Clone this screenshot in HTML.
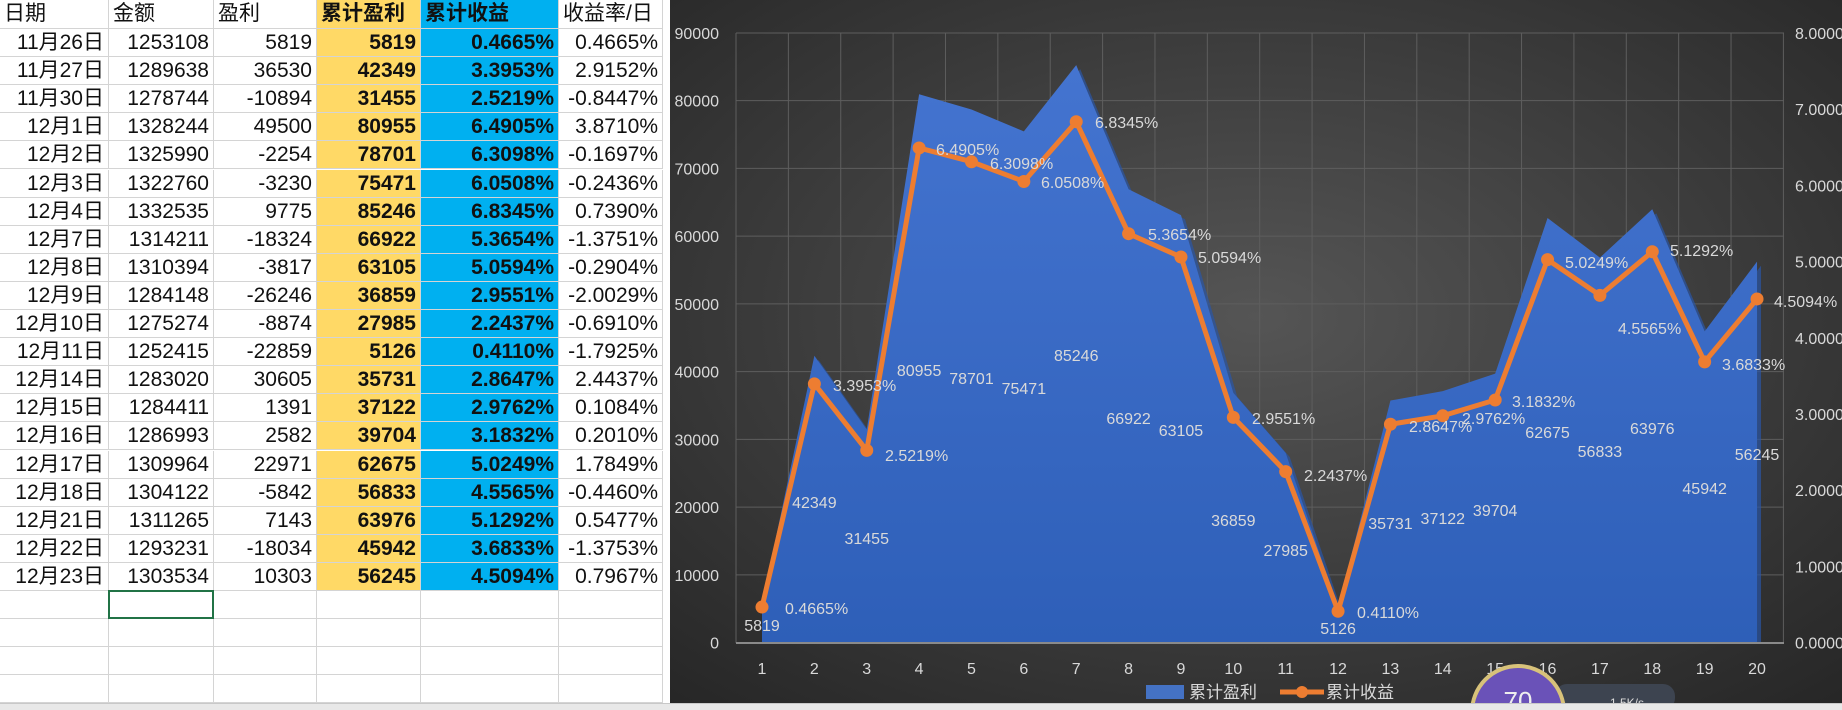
<!DOCTYPE html>
<html><head><meta charset="utf-8"><style>
body{margin:0;width:1842px;height:710px;overflow:hidden;background:#fff;position:relative;font-family:"Liberation Sans","Noto Sans CJK SC",sans-serif}
#sheet{position:absolute;left:0;top:0;width:670px;height:703px;overflow:hidden}
.c{position:absolute;box-sizing:border-box;border-right:1px solid #d4d4d4;border-bottom:1px solid #d4d4d4;font-size:21px;line-height:28px;padding:0 4px;white-space:nowrap;overflow:hidden;color:#111}
.r{text-align:right}
.y{background:#FFD966;font-weight:bold}
.b{background:#00B0F0;font-weight:bold}
#tabs{position:absolute;left:0;top:703px;width:1842px;height:7px;background:#e8e8e8;box-shadow:inset 0 1px 0 #c8c8c8}
</style></head><body>
<div id="sheet"></div>
<div id="tabs"></div>
<svg style="position:absolute;left:670px;top:0" width="1172" height="703" viewBox="670 0 1172 703">
<defs>
<radialGradient id="bg" cx="0.5" cy="0.45" r="0.75"><stop offset="0" stop-color="#555"/><stop offset="1" stop-color="#262626"/></radialGradient>
<linearGradient id="ar" x1="0" y1="0" x2="0" y2="1"><stop offset="0" stop-color="#4474d0"/><stop offset="1" stop-color="#2e5fb8"/></linearGradient>
</defs>
<rect x="670" y="0" width="1172" height="703" fill="url(#bg)"/>
<g id="grid" stroke="#5e5e5e" stroke-width="1"></g>
<polygon id="area2" fill="#2a55a6" opacity="0.7"/>
<polygon id="area" fill="url(#ar)"/>
<line x1="736" y1="643" x2="1784" y2="643" stroke="#8a8a8a" stroke-width="2"/>
<polyline id="ln" fill="none" stroke="#ED7D31" stroke-width="5" stroke-linejoin="round"/>
<g id="mk" fill="#ED7D31"></g>
<g id="lab" font-family="Liberation Sans, sans-serif" font-size="16" fill="#d9d9d9"></g>
<g font-family="Liberation Sans,'Noto Sans CJK SC',sans-serif" font-size="17" fill="#d9d9d9">
<rect x="1146" y="685" width="38" height="14" fill="#4472C4"/>
<text x="1189" y="698">累计盈利</text>
<line x1="1280" y1="692" x2="1324" y2="692" stroke="#ED7D31" stroke-width="5"/>
<circle cx="1302" cy="692" r="6" fill="#ED7D31"/>
<text x="1326" y="698">累计收益</text>
</g>
<rect x="1555" y="684" width="120" height="26" rx="12" fill="#3d4450"/>
<text x="1610" y="707" font-size="12" fill="#ddd" font-family="Liberation Sans">1.5K/s</text>
<circle cx="1518" cy="712" r="46" fill="#6a52b8" stroke="#d8c27a" stroke-width="4"/>
<text x="1518" y="710" font-size="26" fill="#eee" text-anchor="middle" font-family="Liberation Sans">70</text>
</svg>
<script>
var rows=[["11月26日",1253108,5819,5819,"0.4665%","0.4665%"],["11月27日",1289638,36530,42349,"3.3953%","2.9152%"],["11月30日",1278744,-10894,31455,"2.5219%","-0.8447%"],["12月1日",1328244,49500,80955,"6.4905%","3.8710%"],["12月2日",1325990,-2254,78701,"6.3098%","-0.1697%"],["12月3日",1322760,-3230,75471,"6.0508%","-0.2436%"],["12月4日",1332535,9775,85246,"6.8345%","0.7390%"],["12月7日",1314211,-18324,66922,"5.3654%","-1.3751%"],["12月8日",1310394,-3817,63105,"5.0594%","-0.2904%"],["12月9日",1284148,-26246,36859,"2.9551%","-2.0029%"],["12月10日",1275274,-8874,27985,"2.2437%","-0.6910%"],["12月11日",1252415,-22859,5126,"0.4110%","-1.7925%"],["12月14日",1283020,30605,35731,"2.8647%","2.4437%"],["12月15日",1284411,1391,37122,"2.9762%","0.1084%"],["12月16日",1286993,2582,39704,"3.1832%","0.2010%"],["12月17日",1309964,22971,62675,"5.0249%","1.7849%"],["12月18日",1304122,-5842,56833,"4.5565%","-0.4460%"],["12月21日",1311265,7143,63976,"5.1292%","0.5477%"],["12月22日",1293231,-18034,45942,"3.6833%","-1.3753%"],["12月23日",1303534,10303,56245,"4.5094%","0.7967%"]];
var cols=[0,109,214,317,421,559,663];
var h='';
function cell(i,top,ht,txt,cls){h+='<div class="c '+cls+'" style="left:'+cols[i]+'px;top:'+top+'px;width:'+(cols[i+1]-cols[i])+'px;height:'+ht+'px">'+txt+'</div>';}
var hd=["日期","金额","盈利","累计盈利","累计收益","收益率/日"];
for(var i=0;i<6;i++)cell(i,0,29,hd[i],i==3?'y':i==4?'b':'');
for(var r=0;r<24;r++){var t=29+r*28.1;var d=rows[r];
 for(var i=0;i<6;i++){var cls='r';if(i==3)cls+=' y';if(i==4)cls+=' b';
  cell(i,t,28,d?d[i]:'',d?cls:'');}}
h+='<div style="position:absolute;left:108px;top:590px;width:106px;height:29px;border:2px solid #217346;box-sizing:border-box"></div>';
document.getElementById('sheet').innerHTML=h;
function X(i){return 762+i*52.37}
function Y(v){return 642.6-v*0.006774}
function P(p){return 642.6-p*76.21}
var g=document.getElementById('grid'),s='';
for(var k=0;k<=9;k++){var y=Y(k*10000);if(k>0)s+='<line x1="736" x2="1784" y1="'+y+'" y2="'+y+'"/>';
 s+='<text x="719" y="'+(y+6)+'" text-anchor="end" fill="#d9d9d9" stroke="none" font-size="16" font-family="Liberation Sans">'+(k*10000)+'</text>';}
for(var k=0;k<=8;k++){var y=P(k);s+='<text x="1795" y="'+(y+6)+'" fill="#d9d9d9" stroke="none" font-size="16" font-family="Liberation Sans">'+k+'.0000%</text>';}
for(var k=0;k<=20;k++){var x=736+k*52.37;s+='<line x1="'+x+'" x2="'+x+'" y1="33" y2="643"/>';}
for(var k=0;k<20;k++)s+='<text x="'+X(k)+'" y="674" text-anchor="middle" fill="#d9d9d9" stroke="none" font-size="16" font-family="Liberation Sans">'+(k+1)+'</text>';
g.innerHTML=s;
var pts='',pts2='',lp='',mk='';
rows.forEach(function(d,i){pts+=X(i)+','+Y(d[3])+' ';pts2+=(X(i)+4)+','+(Y(d[3])+4)+' ';var py=P(parseFloat(d[4]));lp+=X(i)+','+py+' ';mk+='<circle cx="'+X(i)+'" cy="'+py+'" r="6.5"/>';});
document.getElementById('area').setAttribute('points',X(0)+',643 '+pts+X(19)+',643');
document.getElementById('area2').setAttribute('points',(X(0)+4)+',643 '+pts2+(X(19)+4)+',643');
document.getElementById('ln').setAttribute('points',lp);
document.getElementById('mk').innerHTML=mk;
var ay=[625,502,538,370,378,388,355,418,430,520,550,628,523,518,510,432,451,428,488,454];
var px=[785,833,885,936,990,1041,1095,1148,1198,1252,1304,1357,1409,1462,1512,1565,1618,1670,1722,1774];
var py=[608,385,455,149,163,182,122,234,257,418,475,612,426,418,401,262,328,250,364,301];
var l='';rows.forEach(function(d,i){l+='<text x="'+X(i)+'" y="'+(ay[i]+6)+'" text-anchor="middle">'+d[3]+'</text>';l+='<text x="'+px[i]+'" y="'+(py[i]+6)+'">'+d[4]+'</text>';});
document.getElementById('lab').innerHTML=l;
</script>
</body></html>
